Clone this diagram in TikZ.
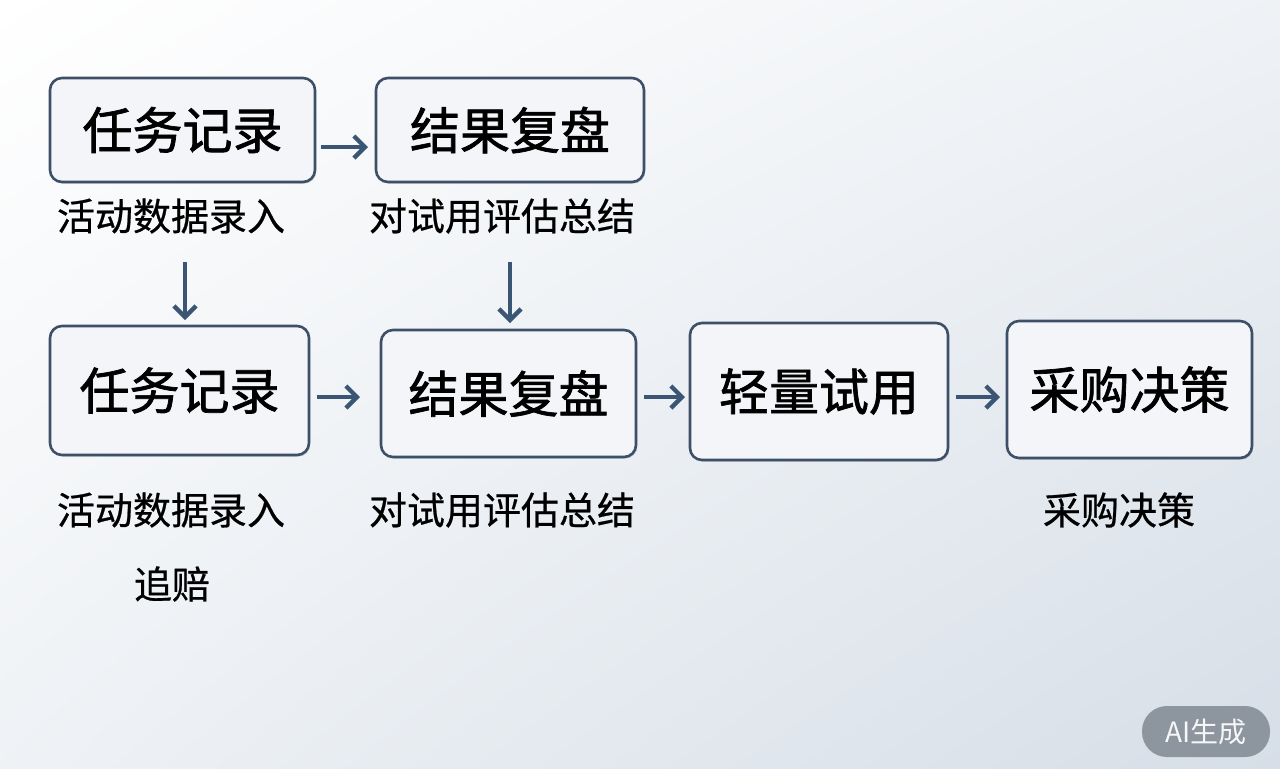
\documentclass[tikz,border=0pt]{standalone}
\usepackage{fontspec}
\newfontfamily\cjk{Noto Sans CJK SC}
\newfontfamily\cjkb{Noto Sans CJK SC}[FakeBold=1.4]
\newfontfamily\cjkl{Noto Sans CJK SC}[FakeBold=0.6]
\usetikzlibrary{arrows.meta,shadows,shadings}
\definecolor{bord}{HTML}{3D5068}
\definecolor{boxfill}{HTML}{F3F5F9}
\definecolor{arr}{HTML}{3B5675}
\definecolor{bgend}{HTML}{D6DEE7}
\definecolor{badge}{HTML}{8D959F}
\tikzset{
  stepbox/.style={draw=bord, line width=1.3pt, fill=boxfill, rounded corners=6pt,
    font=\cjkb\fontsize{25}{28}\selectfont, text=black, inner sep=0pt,
    drop shadow={shadow xshift=0.6pt, shadow yshift=-0.8pt, opacity=0.25, fill=bord}},
  lbl/.style={font=\cjkl\fontsize{19}{22}\selectfont, text=black, inner sep=0pt},
  flow/.style={draw=arr, line width=2.2pt, -{Straight Barb[length=5.5pt,width=11pt,line width=2.2pt]}}
}
\begin{document}
\begin{tikzpicture}[x=0.5pt,y=-0.5pt]
\useasboundingbox (0,0) rectangle (1280,768);
\shade[upper left=white, upper right=white!60!bgend, lower left=white!60!bgend, lower right=bgend] (0,0) rectangle (1280,768);

\node[stepbox, minimum width=132.5pt, minimum height=52pt] (a1) at (182.5,130) {任务记录};
\node[stepbox, minimum width=134pt, minimum height=52pt] (b1) at (510,130) {结果复盘};
\node[stepbox, minimum width=129.5pt, minimum height=64.5pt] (a2) at (179.5,390.5) {任务记录};
\node[stepbox, minimum width=127.5pt, minimum height=63.5pt] (b2) at (508.5,393.5) {结果复盘};
\node[stepbox, minimum width=129pt, minimum height=68.5pt] (c2) at (819,391.5) {轻量试用};
\node[stepbox, minimum width=122.5pt, minimum height=68.5pt] (d2) at (1129.5,389.5) {采购决策};

\node[lbl] (la1) at (171,216) {活动数据录入};
\node[lbl] (lb1) at (502,216) {对试用评估总结};
\node[lbl] (la2) at (171,510) {活动数据录入};
\node[lbl] (la3) at (172,584) {追赔};
\node[lbl] (lb2) at (502,510) {对试用评估总结};
\node[lbl] (ld2) at (1119,510) {采购决策};

\coordinate (v1s) at (185,262);
\coordinate (v2s) at (510,262);
\draw[flow] (a1.east) ++(5,17) coordinate (h1s) -- (368,147) coordinate (h1e);
\draw[flow] (v1s) -- (185,320) coordinate (v1e);
\draw[flow] (v2s) -- (510,323) coordinate (v2e);
\draw[flow] (a2.east) ++(7,6.5) -- (360,397);
\draw[flow] (b2.east) ++(7,3.5) -- (685,397);
\draw[flow] (c2.east) ++(7,5.5) -- (1000,397);

\node[fill=badge, rounded corners=12.5pt, minimum width=64pt, minimum height=25.5pt,
  font=\cjk\fontsize{14}{16}\selectfont, text=white!92!badge, inner sep=0pt] (badge) at (1206,731.5) {AI生成};
\end{tikzpicture}
\end{document}
